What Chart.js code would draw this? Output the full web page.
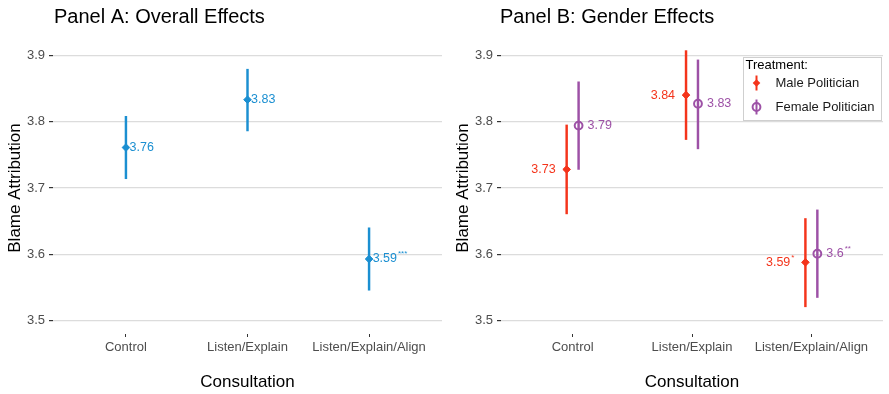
<!DOCTYPE html>
<html>
<head>
<meta charset="utf-8">
<script src="https://cdn.jsdelivr.net/npm/chart.js@4.4.1/dist/chart.umd.min.js"></script>
<style>
  body { margin: 0; background: #fff; }
  #wrap { position: relative; width: 889px; height: 394px; }
  canvas { position: absolute; top: 0; }
  #panelA { left: 0; }
  #panelB { left: 448px; }
</style>
</head>
<body>
<div id="wrap">
  <canvas id="panelA" width="448" height="394"></canvas>
  <canvas id="panelB" width="441" height="394"></canvas>
</div>
<script>
const categories = ["Control", "Listen/Explain", "Listen/Explain/Align"];
const yTicks = [3.5, 3.6, 3.7, 3.8, 3.9];

// Panel A: overall effects
const overallMean = [3.761, 3.833, 3.593];
const overallLow = [3.714, 3.786, 3.546];
const overallHigh = [3.808, 3.879, 3.640];
const overallStars = ["", "", "***"];

// Panel B: gender effects
const maleMean = [3.728, 3.840, 3.588];
const maleLow = [3.661, 3.773, 3.521];
const maleHigh = [3.795, 3.907, 3.654];
const maleStars = ["", "", "*"];

const femaleMean = [3.794, 3.827, 3.601];
const femaleLow = [3.728, 3.759, 3.535];
const femaleHigh = [3.860, 3.893, 3.667];
const femaleStars = ["", "", "**"];

const FONT = "'Liberation Sans', Arial, Helvetica, sans-serif";
const BLUE = "#1b8fd1";
const RED = "#f4341b";
const PURPLE = "#9d51a6";
const DODGE = 0.05;

function points(means, shift) {
    return means.map((v, i) => ({ x: i + 1 + shift, y: v }));
}
function ranges(low, high, shift) {
    return low.map((v, i) => ({ x: i + 1 + shift, y: [v, high[i]] }));
}
function fmt(v) {
    return String(Math.round(v * 100) / 100);
}

// titre du panneau, aligné sur la zone du graphique
const panelTitle = {
    id: "panelTitle",
    afterDraw(chart, args, opts) {
        const ctx = chart.ctx;
        ctx.save();
        ctx.fillStyle = "#000";
        ctx.font = "20px " + FONT;
        ctx.textBaseline = "middle";
        ctx.fillText(opts.text, chart.chartArea.left + opts.shift, 17);
        ctx.restore();
    }
};

// étiquettes de valeur à côté des points
const pointLabels = {
    id: "pointLabels",
    afterDatasetsDraw(chart) {
        const ctx = chart.ctx;
        chart.data.datasets.forEach((ds, di) => {
            if (!ds.valueLabels) return;
            const meta = chart.getDatasetMeta(di);
            meta.data.forEach((pt, i) => {
                const txt = ds.valueLabels[i];
                const star = ds.stars[i];
                ctx.save();
                ctx.fillStyle = ds.borderColor;
                ctx.textBaseline = "middle";
                ctx.textAlign = "left";
                ctx.font = "12.5px " + FONT;
                const w = ctx.measureText(txt).width;
                ctx.font = "8px " + FONT;
                const ws = star ? ctx.measureText(star).width + 1 : 0;
                const x = ds.labelSide === "left" ? pt.x - ds.labelGap - w - ws : pt.x + ds.labelGap;
                ctx.font = "12.5px " + FONT;
                ctx.fillText(txt, x, pt.y);
                if (star) {
                    ctx.font = "8px " + FONT;
                    ctx.fillText(star, x + w + 1, pt.y - 5);
                }
                ctx.restore();
            });
        });
    }
};

// légende encadrée du panneau B
const treatmentLegend = {
    id: "treatmentLegend",
    afterDraw(chart) {
        const ctx = chart.ctx;
        const w = 138, h = 63;
        const right = chart.chartArea.right - 2, top = 57;
        const left = right - w;
        ctx.save();
        ctx.fillStyle = "#fff";
        ctx.fillRect(left, top, w, h);
        ctx.strokeStyle = "#cfcfcf";
        ctx.lineWidth = 1;
        ctx.strokeRect(left + 0.5, top + 0.5, w, h);
        ctx.fillStyle = "#000";
        ctx.font = "13px " + FONT;
        ctx.textBaseline = "middle";
        ctx.fillText("Treatment:", left + 2.5, top + 8);
        const items = chart.data.datasets.filter(d => d.legendLabel);
        items.forEach((d, k) => {
            const cy = top + 26 + k * 24;
            const cx = left + 13.5;
            ctx.strokeStyle = d.borderColor;
            ctx.lineWidth = 2;
            ctx.beginPath();
            ctx.moveTo(cx, cy - 7.5);
            ctx.lineTo(cx, cy + 7.5);
            ctx.stroke();
            ctx.beginPath();
            if (d.pointStyle === "circle") {
                ctx.arc(cx, cy, d.pointRadius, 0, Math.PI * 2);
                ctx.lineWidth = d.borderWidth;
                ctx.stroke();
            } else {
                const r = d.pointRadius;
                ctx.moveTo(cx, cy - r);
                ctx.lineTo(cx + r, cy);
                ctx.lineTo(cx, cy + r);
                ctx.lineTo(cx - r, cy);
                ctx.closePath();
                ctx.fillStyle = d.backgroundColor;
                ctx.fill();
            }
            ctx.fillStyle = "#1a1a1a";
            ctx.font = "13px " + FONT;
            ctx.fillText(d.legendLabel, left + 32.5, cy);
        });
        ctx.restore();
    }
};

function errorBars(low, high, shift, color) {
    return {
        type: "bar",
        data: ranges(low, high, shift),
        backgroundColor: color,
        borderWidth: 0,
        barThickness: 1.8,
        grouped: false,
        order: 2
    };
}

function meanPoints(means, shift, color, opts) {
    return Object.assign({
        type: "scatter",
        data: points(means, shift),
        borderColor: color,
        backgroundColor: color,
        pointStyle: "rectRot",
        pointRadius: 3.8,
        borderWidth: 1,
        valueLabels: means.map(fmt),
        order: 1
    }, opts);
}

function makePanel(canvasId, title, titleShift, datasets, rightPad, extra) {
    return new Chart(document.getElementById(canvasId), {
        type: "scatter",
        data: { datasets: datasets },
        options: {
            responsive: false,
            animation: false,
            layout: { padding: { top: 42, right: rightPad, bottom: 0, left: 0 } },
            plugins: {
                legend: { display: false },
                tooltip: { enabled: false },
                panelTitle: { text: title, shift: titleShift }
            },
            scales: {
                x: {
                    type: "linear",
                    min: 0.4,
                    max: 3.6,
                    offset: false,
                    afterBuildTicks: s => { s.ticks = categories.map((c, i) => ({ value: i + 1 })); },
                    afterFit: s => { s.height = 60; },
                    ticks: {
                        callback: v => categories[v - 1],
                        color: "#4d4d4d",
                        font: { family: FONT, size: 13 },
                        padding: 3,
                        maxRotation: 0,
                        autoSkip: false
                    },
                    grid: { offset: false, drawOnChartArea: false, tickLength: 3, tickColor: "#333", lineWidth: 1 },
                    border: { display: false },
                    title: {
                        display: true,
                        text: "Consultation",
                        color: "#000",
                        font: { family: FONT, size: 17 },
                        padding: { top: 0, bottom: 1.5 }
                    }
                },
                y: {
                    type: "linear",
                    min: 3.48,
                    max: 3.92,
                    afterBuildTicks: s => { s.ticks = yTicks.map(v => ({ value: v })); },
                    afterFit: s => { s.width = 53; },
                    ticks: {
                        callback: v => v.toFixed(1),
                        color: "#4d4d4d",
                        font: { family: FONT, size: 13 },
                        padding: 4
                    },
                    grid: { color: "#dcdcdc", lineWidth: 1.2, tickLength: 4, tickColor: "#333" },
                    border: { display: false },
                    title: {
                        display: true,
                        text: "Blame Attribution",
                        color: "#000",
                        font: { family: FONT, size: 17 },
                        padding: { top: 5, bottom: 0 }
                    }
                }
            }
        },
        plugins: [panelTitle, pointLabels].concat(extra)
    });
}

makePanel("panelA", "Panel A: Overall Effects", 1, [
    errorBars(overallLow, overallHigh, 0, BLUE),
    meanPoints(overallMean, 0, BLUE, { stars: overallStars, labelSide: "right", labelGap: 3.6 })
], 6, []);

makePanel("panelB", "Panel B: Gender Effects", -1, [
    errorBars(maleLow, maleHigh, -DODGE, RED),
    errorBars(femaleLow, femaleHigh, DODGE, PURPLE),
    meanPoints(maleMean, -DODGE, RED, {
        stars: maleStars, labelSide: "left", labelGap: 11, legendLabel: "Male Politician"
    }),
    meanPoints(femaleMean, DODGE, PURPLE, {
        stars: femaleStars, labelSide: "right", labelGap: 9, legendLabel: "Female Politician",
        pointStyle: "circle", pointRadius: 3.9, borderWidth: 2, backgroundColor: "rgba(0,0,0,0)"
    })
], 0, [treatmentLegend]);
</script>
</body>
</html>
